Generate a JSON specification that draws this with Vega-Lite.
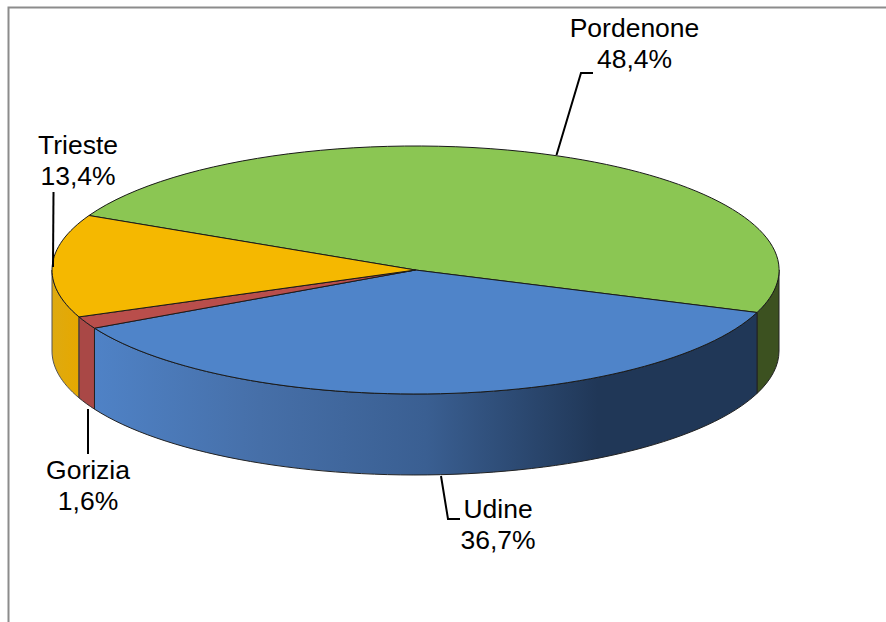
{
"$schema":"https://vega.github.io/schema/vega-lite/v6.json",
"width":886,"height":622,"padding":0,
"autosize":{"type":"none"},
"background":"white",
"config":{"view":{"stroke":null}},
"datasets":{
"slices":[
{"province":"Pordenone","share":48.4,"cx":415.5,"cy":270,"lx":634.5,"ly":37,"label":"Pordenone\n48,4%"},
{"province":"Udine","share":36.7,"cx":415.5,"cy":270,"lx":498,"ly":518,"label":"Udine\n36,7%"},
{"province":"Gorizia","share":1.6,"cx":415.5,"cy":270,"lx":88,"ly":479,"label":"Gorizia\n1,6%"},
{"province":"Trieste","share":13.4,"cx":415.5,"cy":270,"lx":78,"ly":154,"label":"Trieste\n13,4%"}
],
"leaders":[
{"id":"Pordenone","o":1,"px":556.5,"py":155},{"id":"Pordenone","o":2,"px":581,"py":73},{"id":"Pordenone","o":3,"px":593,"py":73},
{"id":"Udine","o":1,"px":441,"py":476},{"id":"Udine","o":2,"px":448,"py":519},{"id":"Udine","o":3,"px":460,"py":519},
{"id":"Gorizia","o":1,"px":88,"py":409},{"id":"Gorizia","o":2,"px":88,"py":454},
{"id":"Trieste","o":1,"px":53,"py":267},{"id":"Trieste","o":2,"px":53.5,"py":192}
],
"frame":[
{"o":1,"px":8.5,"py":622},{"o":2,"px":8.5,"py":7.5},{"o":3,"px":886,"py":7.5}
]
},
"encoding":{
"x":{"field":"cx","type":"quantitative","axis":null,"scale":{"domain":[0,886],"nice":false,"zero":false}},
"y":{"field":"cy","type":"quantitative","axis":null,"scale":{"domain":[622,0],"nice":false,"zero":false}}
},
"layer":[
{"data":{"name":"frame"},
 "mark":{"type":"line","color":"#8c8c8c","strokeWidth":2},
 "encoding":{"x":{"field":"px","type":"quantitative"},"y":{"field":"py","type":"quantitative"},"order":{"field":"o"}}},
{"data":{"name":"slices"},"transform":[{"filter":"datum.province=='Pordenone'"}],
 "mark":{"type":"point","filled":true,"opacity":1,"size":528529,"stroke":"#222222","strokeWidth":1,
  "shape":"M0.9395 0.1169 A1 0.3411 0 0 0 1 0 L1 0.2228 A1 0.3411 0 0 1 0.9395 0.3397 Z",
  "fill":"#3c5120"}},
{"data":{"name":"slices"},"transform":[{"filter":"datum.province=='Trieste'"}],
 "mark":{"type":"point","filled":true,"opacity":1,"size":528529,"stroke":"#555555","strokeWidth":1,
  "shape":"M-0.9257 0.129 A1 0.3411 0 0 1 -1 0 L-1 0.2228 A1 0.3411 0 0 0 -0.9257 0.3518 Z",
  "fill":{"x1":0,"y1":0,"x2":1,"y2":0,"gradient":"linear","stops":[{"offset":0,"color":"#deaa10"},{"offset":1,"color":"#e6a800"}]}}},
{"data":{"name":"slices"},"transform":[{"filter":"datum.province=='Gorizia'"}],
 "mark":{"type":"point","filled":true,"opacity":1,"size":528529,"stroke":"#333333","strokeWidth":1,
  "shape":"M-0.8831 0.16 A1 0.3411 0 0 1 -0.9257 0.129 L-0.9257 0.3518 A1 0.3411 0 0 0 -0.8831 0.3828 Z",
  "fill":"#a94846"}},
{"data":{"name":"slices"},"transform":[{"filter":"datum.province=='Udine'"}],
 "mark":{"type":"point","filled":true,"opacity":1,"size":528529,"stroke":"#222222","strokeWidth":1,
  "shape":"M0.9395 0.1169 A1 0.3411 0 0 1 -0.8831 0.16 L-0.8831 0.3828 A1 0.3411 0 0 0 0.9395 0.3397 Z",
  "fill":{"x1":0,"y1":0,"x2":1,"y2":0,"gradient":"linear","stops":[{"offset":0,"color":"#4f82c6"},{"offset":0.25,"color":"#466fa8"},{"offset":0.5,"color":"#3a5f92"},{"offset":0.76,"color":"#203757"},{"offset":1,"color":"#203757"}]}}},
{"data":{"name":"slices"},
 "mark":{"type":"point","filled":true,"opacity":1,"size":528529,"stroke":"#1a1a1a","strokeWidth":1},
 "encoding":{
  "shape":{"field":"province","type":"nominal","legend":null,"scale":{"domain":["Pordenone","Udine","Gorizia","Trieste"],"range":[
   "M0 0 L-0.8982 -0.1499 A1 0.3411 0 0 1 0.9395 0.1169 Z",
   "M0 0 L0.9395 0.1169 A1 0.3411 0 0 1 -0.8831 0.16 Z",
   "M0 0 L-0.8831 0.16 A1 0.3411 0 0 1 -0.9257 0.129 Z",
   "M0 0 L-0.9257 0.129 A1 0.3411 0 0 1 -0.8982 -0.1499 Z"]}},
  "color":{"field":"province","type":"nominal","legend":null,"scale":{"domain":["Pordenone","Udine","Gorizia","Trieste"],"range":["#8bc653","#4f84c9","#b94e4b","#f5b800"]}}
 }},
{"data":{"name":"leaders"},
 "mark":{"type":"line","color":"#000000","strokeWidth":2},
 "encoding":{"x":{"field":"px","type":"quantitative"},"y":{"field":"py","type":"quantitative"},"detail":{"field":"id"},"order":{"field":"o"}}},
{"data":{"name":"slices"},
 "mark":{"type":"text","font":"Liberation Sans","fontSize":26.5,"lineHeight":31,"lineBreak":"\n","align":"center","baseline":"alphabetic","color":"#000000"},
 "encoding":{"x":{"field":"lx","type":"quantitative"},"y":{"field":"ly","type":"quantitative"},"text":{"field":"label"}}}
]
}
